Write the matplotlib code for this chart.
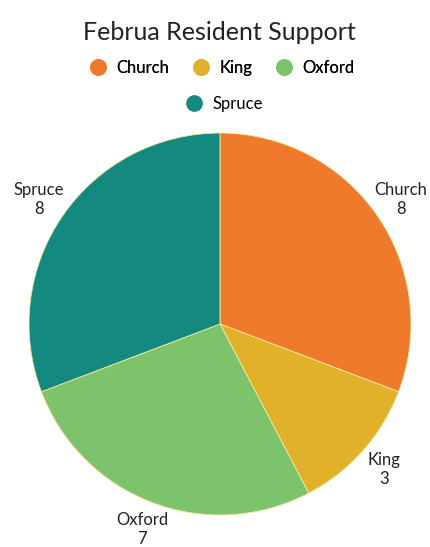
import matplotlib.pyplot as plt
from matplotlib.lines import Line2D

plt.rcParams['font.family'] = ['Lato', 'DejaVu Sans']

title = "Februa Resident Support"
streets = ["Church", "King", "Oxford", "Spruce"]
counts = [8, 3, 7, 8]
colors = ["#F07A2B", "#E2B12A", "#7DC36B", "#14897F"]

fig = plt.figure(figsize=(4.31, 5.47), dpi=100)
ax = fig.add_axes([29 / 431, 32 / 547, 382 / 431, 382 / 547])

labels = [f"{s}\n{c}" for s, c in zip(streets, counts)]
wedges, texts = ax.pie(counts, labels=labels, colors=colors, startangle=90,
                       counterclock=False, labeldistance=1.15,
                       wedgeprops=dict(edgecolor="#f5e9a0", linewidth=0.6),
                       textprops=dict(fontsize=12, color="#222222",
                                      ha="center", va="center",
                                      linespacing=1.2))
for w in wedges:
    w.set_clip_on(False)
ax.set_xlim(-1, 1)
ax.set_ylim(-1, 1)
ax.set_aspect("equal")

fig.text(0.51, 1 - 33 / 547, title, ha="center", va="center",
         fontsize=18, color="#222222")

def handle(c):
    return Line2D([], [], marker="o", linestyle="none", markersize=11,
                  markerfacecolor=c, markeredgecolor=c)

leg1 = fig.legend([handle(c) for c in colors[:3]], streets[:3],
                  loc="center", bbox_to_anchor=(0.505, 1 - 68 / 547), ncol=3,
                  frameon=False, fontsize=12, handletextpad=0.1,
                  columnspacing=0.9)
fig.legend([handle(colors[3])], streets[3:], loc="center",
           bbox_to_anchor=(0.51, 1 - 104 / 547), frameon=False,
           fontsize=12, handletextpad=0.1)
fig.add_artist(leg1)

fig.savefig("out.png", dpi=100, facecolor="white")
